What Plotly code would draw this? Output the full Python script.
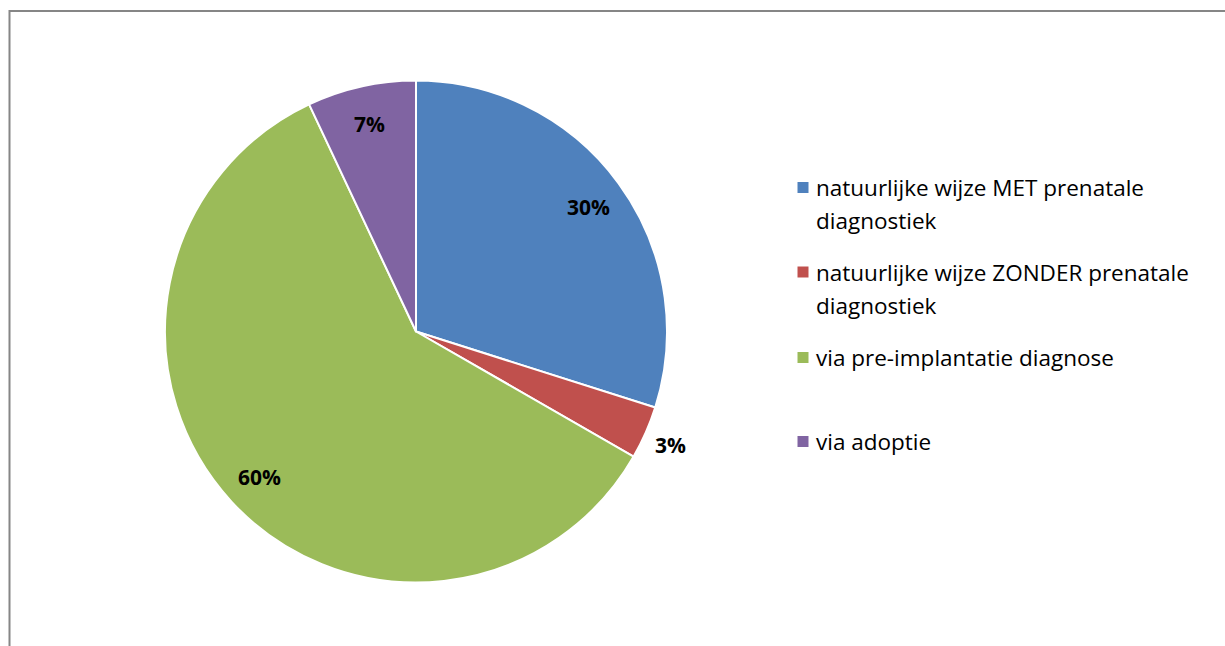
import math
import textwrap
import plotly.graph_objects as go

# Share of respondents per route to parenthood
categories = [
    "natuurlijke wijze MET prenatale diagnostiek",
    "natuurlijke wijze ZONDER prenatale diagnostiek",
    "via pre-implantatie diagnose",
    "via adoptie",
]
shares = [29.9, 3.4, 59.7, 7.0]
colors = ["#4F81BD", "#C0504D", "#9BBB59", "#8064A2"]

W, H = 1225, 646
FONT = "Open Sans"


def px(x):
    return x / W


def py(y):
    return 1 - y / H


# pie geometry in pixels
cx, cy, R = 416, 331.5, 251

fig = go.Figure()
fig.add_trace(go.Pie(
    labels=categories,
    values=shares,
    sort=False,
    direction="clockwise",
    rotation=0,
    marker=dict(colors=colors, line=dict(color="white", width=2)),
    textinfo="none",
    hoverinfo="label+percent",
    showlegend=False,
    domain=dict(x=[px(cx - R), px(cx + R)], y=[py(cy + R), py(cy - R)]),
))

annotations = []
shapes = []

# percentage labels placed along each slice's middle angle
total = sum(shares)
cum = 0.0
for v in shares:
    frac = v / total
    theta = 2 * math.pi * (cum + frac / 2)
    cum += frac
    f = 1.11 if frac < 0.05 else 0.85
    lx = cx + R * f * math.sin(theta)
    ly = cy - R * f * math.cos(theta)
    annotations.append(dict(
        x=px(lx), y=py(ly + 1), xref="paper", yref="paper",
        text=f"<b>{round(frac * 100):.0f}%</b>", showarrow=False,
        font=dict(family=FONT, size=21, color="black"),
        xanchor="center", yanchor="middle",
    ))

# legend drawn as square swatches with wrapped labels
legend_rows = [187.5, 272, 357.5, 441.5]
line_gap = 33
for name, col, yrow in zip(categories, colors, legend_rows):
    shapes.append(dict(
        type="rect", xref="paper", yref="paper",
        x0=px(797.5), x1=px(808.5), y0=py(yrow + 5.5), y1=py(yrow - 5.5),
        fillcolor=col, line=dict(width=0),
    ))
    for i, line in enumerate(textwrap.wrap(name, 34)):
        annotations.append(dict(
            x=px(814), y=py(yrow + i * line_gap), xref="paper", yref="paper",
            text=line, showarrow=False,
            font=dict(family=FONT, size=22.5, color="black"),
            xanchor="left", yanchor="middle",
        ))

# chart frame
shapes.append(dict(
    type="rect", xref="paper", yref="paper",
    x0=px(9.5), x1=px(W + 20), y0=py(H + 20), y1=py(11),
    line=dict(color="#868686", width=2), fillcolor="rgba(0,0,0,0)",
))

fig.update_layout(
    width=W, height=H,
    margin=dict(l=0, r=0, t=0, b=0),
    paper_bgcolor="white",
    plot_bgcolor="white",
    annotations=annotations,
    shapes=shapes,
)

fig.write_html("out.html")
